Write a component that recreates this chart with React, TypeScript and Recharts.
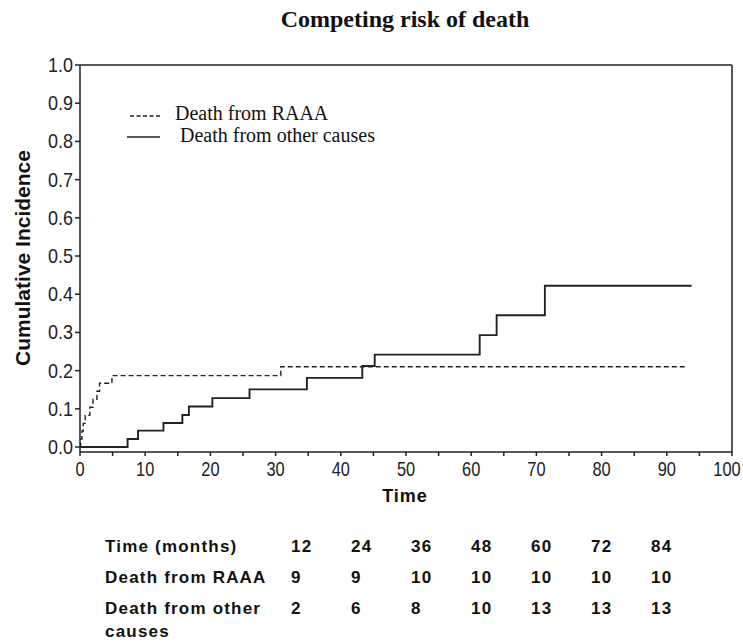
import React from 'react';
import { LineChart, Line, XAxis, YAxis, ReferenceLine } from 'recharts';

// cumulative incidence (time in months)
const raaaTime = [0, 0.1, 0.3, 0.5, 0.8, 1.5, 2.0, 2.6, 3.0, 4.9, 30.8, 93.2];
const raaaCif = [0, 0.021, 0.042, 0.062, 0.083, 0.104, 0.125, 0.146, 0.167, 0.187, 0.21, 0.21];
const otherTime = [0, 7.3, 8.9, 12.8, 15.7, 16.7, 20.3, 26.0, 34.8, 43.3, 45.2, 61.3, 63.9, 71.3, 93.8];
const otherCif = [0, 0.021, 0.043, 0.063, 0.084, 0.106, 0.128, 0.151, 0.181, 0.212, 0.242, 0.293, 0.345, 0.422, 0.422];

const xTicks = [0, 5, 10, 15, 20, 25, 30, 35, 40, 45, 50, 55, 60, 65, 70, 75, 80, 85, 90, 95, 100];
const yTicks = [0, 0.1, 0.2, 0.3, 0.4, 0.5, 0.6, 0.7, 0.8, 0.9, 1.0];

// table under the chart
const tableMonths = ['12', '24', '36', '48', '60', '72', '84'];
const raaaCounts = ['9', '9', '10', '10', '10', '10', '10'];
const otherCounts = ['2', '6', '8', '10', '13', '13', '13'];

const raaaData = raaaTime.map((t, i) => ({ t, v: raaaCif[i] }));
const otherData = otherTime.map((t, i) => ({ t, v: otherCif[i] }));

const serif = "'Liberation Serif', 'Times New Roman', serif";
const sans = "'Liberation Sans', Arial, sans-serif";

// narrow-looking tick labels (the original font is condensed)
function XTick({ x, y, payload }) {
    const v = payload.value;
    if (v % 10 !== 0) return null;
    // last label sits right at the page edge, nudge it in a bit
    const cx = v === 100 ? x - 4 : x;
    return (
        <text transform={`translate(${cx},${y + 15}) scale(0.82,1)`} textAnchor="middle" fontFamily={sans} fontSize={20} fill="#222">
            {String(v)}
        </text>
    );
}

function YTick({ x, y, payload }) {
    return (
        <text transform={`translate(${x},${y + 7}) scale(0.9,1)`} textAnchor="end" fontFamily={sans} fontSize={20} fill="#222">
            {payload.value.toFixed(1)}
        </text>
    );
}

function LegendBox() {
    return (
        <svg width={290} height={50} style={{ position: 'absolute', left: 120, top: 100 }}>
            <line x1={10} y1={16} x2={42} y2={16} stroke="#222" strokeWidth={1.3} strokeDasharray="4 2.5" />
            <text x={55} y={20} fontFamily={serif} fontSize={20} fill="#111">Death from RAAA</text>
            <line x1={7} y1={37} x2={40} y2={37} stroke="#222" strokeWidth={1.3} />
            <text x={60} y={42} fontFamily={serif} fontSize={20} fill="#111">Death from other causes</text>
        </svg>
    );
}

export default function App() {
    const colX = [291, 351, 411, 471, 531, 591, 651];
    const tStyle = { fontFamily: sans, fontSize: 17, fontWeight: 700, letterSpacing: 1.2, fill: '#111' };
    return (
        <div style={{ position: 'absolute', left: 0, top: 0, width: 743, height: 642, background: '#fff' }}>
            <LineChart
                width={743}
                height={642}
                margin={{ top: 65, right: 11, left: 0, bottom: 130 }}
            >
                <XAxis
                    type="number"
                    dataKey="t"
                    domain={[0, 100]}
                    allowDataOverflow
                    ticks={xTicks}
                    height={60}
                    tickSize={4}
                    tickMargin={5}
                    stroke="#222"
                    strokeWidth={1.5}
                    tick={<XTick />}
                    label={{
                        content: () => (
                            <text x={405} y={502} textAnchor="middle" fontFamily={sans} fontSize={18} fontWeight={700} letterSpacing={1} fill="#111">Time</text>
                        ),
                    }}
                />
                <YAxis
                    type="number"
                    domain={[-0.013, 1]}
                    allowDataOverflow
                    ticks={yTicks}
                    width={80}
                    tickSize={5}
                    tickMargin={2}
                    stroke="#222"
                    strokeWidth={1.5}
                    tick={<YTick />}
                    label={{
                        content: () => (
                            <text transform="translate(30,258) rotate(-90)" textAnchor="middle" fontFamily={sans} fontSize={21} fontWeight={700} fill="#111">Cumulative Incidence</text>
                        ),
                    }}
                />
                <ReferenceLine y={1} stroke="#222" strokeWidth={1.5} />
                <ReferenceLine x={100} stroke="#222" strokeWidth={1.5} />
                <Line
                    data={raaaData}
                    dataKey="v"
                    name="Death from RAAA"
                    type="stepAfter"
                    stroke="#222"
                    strokeWidth={1.4}
                    strokeDasharray="5 3"
                    dot={false}
                    isAnimationActive={false}
                />
                <Line
                    data={otherData}
                    dataKey="v"
                    name="Death from other causes"
                    type="stepAfter"
                    stroke="#222"
                    strokeWidth={1.9}
                    dot={false}
                    isAnimationActive={false}
                />
            </LineChart>
            <LegendBox />
            <svg width={743} height={642} style={{ position: 'absolute', left: 0, top: 0, pointerEvents: 'none' }}>
                <text x={405} y={27} textAnchor="middle" fontFamily={serif} fontSize={24} fontWeight={700} fill="#111">Competing risk of death</text>
                <text x={105} y={552} {...tStyle}>Time (months)</text>
                <text x={105} y={583} {...tStyle}>Death from RAAA</text>
                <text x={105} y={614} {...tStyle}>Death from other</text>
                <text x={105} y={637} {...tStyle}>causes</text>
                {tableMonths.map((m, i) => (
                    <text key={'m' + i} x={colX[i]} y={552} {...tStyle}>{m}</text>
                ))}
                {raaaCounts.map((c, i) => (
                    <text key={'r' + i} x={colX[i]} y={583} {...tStyle}>{c}</text>
                ))}
                {otherCounts.map((c, i) => (
                    <text key={'o' + i} x={colX[i]} y={614} {...tStyle}>{c}</text>
                ))}
            </svg>
        </div>
    );
}
